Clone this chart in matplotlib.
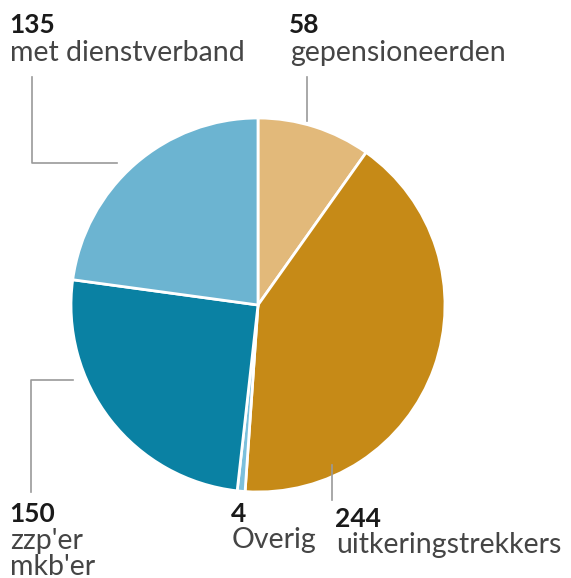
import matplotlib.pyplot as plt

values = [58, 244, 4, 150, 135]
numbers = ['58', '244', '4', '150', '135']
labels = ['gepensioneerden', 'uitkeringstrekkers', 'Overig', "zzp'er\nmkb'er", 'met dienstverband']
colors = ['#e2b97a', '#c68a17', '#7cc0dc', '#0a81a3', '#6cb4d1']

W, H = 571, 578


def Y(y):
    return H - y


fig = plt.figure(figsize=(W / 100, H / 100), dpi=100)
ax = fig.add_axes([0, 0, 1, 1])

ax.pie(values, colors=colors, startangle=90, counterclock=False,
       center=(258, Y(305)), radius=187,
       wedgeprops=dict(edgecolor='white', linewidth=2))
ax.set_xlim(0, W)
ax.set_ylim(0, H)
ax.set_aspect('equal')
ax.axis('off')

lc = '#9a9a9a'
# leader lines
ax.plot([32, 32, 117], [Y(77), Y(163), Y(163)], color=lc, lw=1.2)
ax.plot([307, 307], [Y(77), Y(121)], color=lc, lw=1.2)
ax.plot([73, 31, 31], [Y(380), Y(380), Y(492)], color=lc, lw=1.2)
ax.plot([332, 332], [Y(465), Y(500)], color=lc, lw=1.2)

fam = 'Lato'
num_kw = dict(fontfamily=fam, fontsize=19, fontweight='bold', color='#1a1a1a', va='baseline')
lab_kw = dict(fontfamily=fam, fontsize=20.5, color='#454545', va='baseline')

# x, number baseline, label baseline (image pixels)
pos = {
    '135': (10, 33, 61),
    '58': (290, 33, 61),
    '150': (10, 522, 549),
    '4': (232, 522, 548),
    '244': (336, 527, 553),
}
for num, lab in zip(numbers, labels):
    x, yn, yl = pos[num]
    ax.text(x - 1, Y(yn), num, **num_kw)
    for i, line in enumerate(lab.split('\n')):
        ax.text(x, Y(yl + 26 * i), line, **lab_kw)

fig.savefig('out.png', dpi=100)
